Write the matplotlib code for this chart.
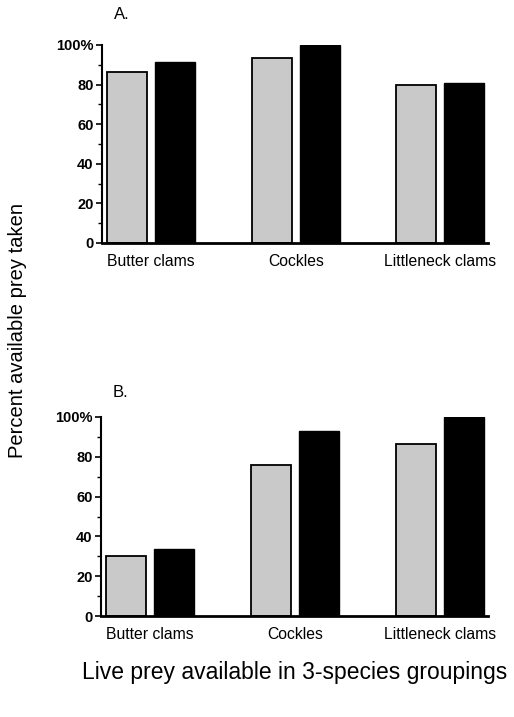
import matplotlib
matplotlib.use('Agg')
import matplotlib.pyplot as plt
import numpy as np

plt.rcParams['font.family'] = ['Liberation Sans', 'DejaVu Sans']

# Data
categories = ['Butter clams', 'Cockles', 'Littleneck clams']
panel_a_gray = [86.4, 93.4, 79.8]
panel_a_black = [91.4, 100.0, 80.8]
panel_b_gray = [30.1, 75.9, 86.4]
panel_b_black = [33.7, 93.0, 100.0]
yticks = [0, 20, 40, 60, 80, 100]
ytick_labels = ['0', '20', '40', '60', '80', '100%']

W, H = 514, 717
fig = plt.figure(figsize=(W / 100, H / 100), dpi=100)


def panel(rect, gray, black, tag, tag_y):
    ax = fig.add_axes(rect)
    x = np.arange(len(categories))
    ax.bar(x - 0.166, gray, width=0.276, facecolor='#c9c9c9',
           edgecolor='black', linewidth=1.3, zorder=2)
    ax.bar(x + 0.166, black, width=0.276, facecolor='black',
           edgecolor='black', linewidth=1.0, zorder=2)
    ax.set_xlim(-0.34, 2.33)
    ax.set_ylim(0, 100)
    for s in ['top', 'right']:
        ax.spines[s].set_visible(False)
    ax.spines['left'].set_linewidth(1.5)
    ax.spines['bottom'].set_linewidth(2.0)
    ax.set_yticks(yticks)
    ax.set_yticklabels(ytick_labels, fontsize=10.5, fontweight='bold')
    ax.set_yticks([10, 30, 50, 70, 90], minor=True)
    ax.tick_params(axis='y', which='major', length=4, width=1.2, pad=2)
    ax.tick_params(axis='y', which='minor', length=3, width=1.0)
    ax.set_xticks(x)
    ax.set_xticklabels(categories, fontsize=11.3)
    ax.tick_params(axis='x', length=0, pad=8)
    ax.text(0.03, tag_y, tag, transform=ax.transAxes, fontsize=12,
            ha='left', va='bottom')
    return ax


panel([102 / W, 1 - 243 / H, 386 / W, 198 / H], panel_a_gray, panel_a_black, 'A.', 1.115)
panel([101 / W, 1 - 616 / H, 387 / W, 199 / H], panel_b_gray, panel_b_black, 'B.', 1.085)

fig.text(18 / W, 1 - 330 / H, 'Percent available prey taken', rotation=90,
         fontsize=14.5, ha='center', va='center')
fig.text(295 / W, 1 - 673 / H, 'Live prey available in 3-species groupings',
         fontsize=16.5, ha='center', va='center')

fig.savefig('out.png', dpi=100, facecolor='white')
